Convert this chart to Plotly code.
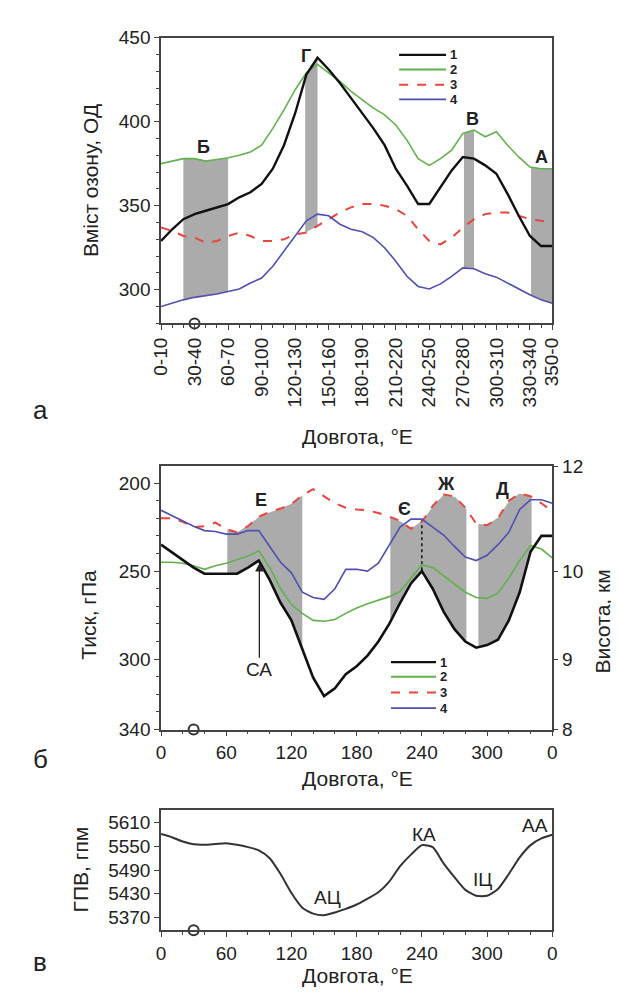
import numpy as np
import plotly.graph_objects as go

# ---------------- DATA ----------------
# Panel а: ozone content (DU) by longitude sector
lon_a = list(range(0, 351, 10))
tick_a_vals = [0, 30, 60, 90, 120, 150, 180, 210, 240, 270, 300, 330, 350]
tick_a_text = ["0-10", "30-40", "60-70", "90-100", "120-130", "150-160", "180-190",
               "210-220", "240-250", "270-280", "300-310", "330-340", "350-0"]
oz1 = [329, 336, 342, 345, 347, 349, 351, 355, 358, 363, 372, 386, 405, 428, 438, 431,
       423, 414, 405, 396, 386, 372, 362, 351, 351, 361, 371, 379, 378, 374, 369, 357,
       344, 332, 326, 326]
oz2 = [375, 376.5, 378, 378, 376.5, 377.5, 378.5, 380, 382, 386, 396, 407, 419, 429, 434,
       429, 424, 418, 413, 408, 404, 398, 389, 378, 374, 378, 383, 393, 395, 391, 394, 386,
       379, 373, 372, 372]
oz3 = [337, 335, 332, 331, 328, 329, 332, 334, 332, 329, 329, 330, 333, 334, 338, 342, 346,
       349, 351, 351, 350, 348, 344, 336, 329, 327, 331, 337, 342, 345, 346, 346, 344, 342,
       341, 340]
oz4 = [290, 292, 294, 295.5, 296.5, 297.5, 299, 300.5, 304, 307, 314, 323, 332, 341, 345,
       344, 339, 336, 334.5, 331, 325, 317, 308, 302, 300.5, 303.5, 308, 313, 312.5, 309.5,
       307.5, 304, 300, 297, 294, 292]

# Panel б: tropopause pressure (hPa)
lon_b = list(range(0, 361, 10))
tick_b_vals = [0, 60, 120, 180, 240, 300, 360]
tick_b_text = ["0", "60", "120", "180", "240", "300", "0"]
pr1 = [235, 239.5, 244, 248, 251.5, 251.5, 251.5, 251.5, 248, 244, 255, 268, 278, 294,
       310.5, 321, 316.5, 308.5, 304, 298, 290, 280, 268, 257, 250, 260, 273, 283, 290,
       293.5, 292, 289, 278, 262, 239, 230, 230]
pr2 = [245, 245, 245.5, 247, 249, 247, 245.5, 243.5, 241.5, 238.5, 248, 260, 269, 274, 278,
       278.5, 277.5, 274, 271, 268.5, 266.5, 264.5, 261.5, 254, 246.5, 248, 252.5, 257.5,
       262, 265, 265.5, 262.5, 254, 244, 235.5, 237.5, 242.5]
pr3 = [220, 220, 222, 225, 224.5, 222.5, 226, 228, 224.5, 219, 216.5, 214.5, 212, 207,
       203.5, 207.5, 211.5, 214, 215, 215.5, 217, 219, 221.5, 226, 222, 213, 206.5, 207.5,
       214, 223, 224, 220, 210, 206, 207.5, 211.5, 216]
pr4 = [215.5, 218.5, 221.5, 224.5, 227, 227.5, 229, 229, 227, 227, 236, 245, 251, 262, 265,
       266, 260, 249, 249, 250, 245.5, 235, 225, 220.5, 220.5, 225, 229.5, 236, 242, 244,
       241, 235, 228, 215, 209.5, 209.5, 211.5]
height_ticks_p = [190.5, 250, 300, 340]
height_ticks_km = ["12", "10", "9", "8"]

# Panel в: geopotential height (gpm)
gph = [5581, 5573, 5562, 5555, 5554, 5556, 5558, 5554, 5548, 5540, 5520, 5480, 5432, 5395,
       5380, 5376, 5383, 5392, 5403, 5418, 5434, 5461, 5500, 5529, 5553, 5548, 5507, 5472,
       5440, 5425, 5425, 5442, 5480, 5522, 5553, 5570, 5579]
gph_ticks = [5370, 5430, 5490, 5550, 5610]

kyiv_lon = 30

FONT = "Liberation Sans, Arial, sans-serif"
BLACK = "#111111"
GREEN = "#63b04f"
RED = "#e8453c"
BLUE = "#5050b0"
GRAY = "#ababab"
AX = "#444444"

fig = go.Figure()


def band(xarr, top, bot, x0, x1, xa, ya):
    g = np.linspace(x0, x1, 40)
    t = np.interp(g, xarr, top)
    b = np.interp(g, xarr, bot)
    fig.add_trace(go.Scatter(x=list(g) + list(g[::-1]), y=list(t) + list(b[::-1]),
                             fill="toself", fillcolor=GRAY, line=dict(width=0),
                             mode="lines", hoverinfo="skip", showlegend=False,
                             xaxis=xa, yaxis=ya))


def kyiv(xa, ya, yv):
    fig.add_trace(go.Scatter(x=[kyiv_lon], y=[yv], mode="markers", cliponaxis=False,
                             marker=dict(symbol="circle-open", size=10, color="#333",
                                         line=dict(color="#333", width=2)),
                             showlegend=False, xaxis=xa, yaxis=ya))


# ----- Panel а -----
band(lon_a, oz2, oz4, 20, 60, "x", "y")
band(lon_a, oz1, oz3, 129, 140, "x", "y")
band(lon_a, oz2, oz4, 271, 280, "x", "y")
band(lon_a, oz2, oz4, 331, 350, "x", "y")

for ser, col, w, dash in [(oz2, GREEN, 1.6, "solid"), (oz3, RED, 2, "dash"),
                          (oz4, BLUE, 1.6, "solid"), (oz1, BLACK, 2.4, "solid")]:
    fig.add_trace(go.Scatter(x=lon_a, y=ser, mode="lines",
                             line=dict(color=col, width=w, dash=dash),
                             showlegend=False, xaxis="x", yaxis="y"))
kyiv("x", "y", 280)

# ----- Panel б -----
band(lon_b, pr3, pr1, 61, 130, "x2", "y2")
band(lon_b, pr3, pr1, 211, 241, "x2", "y2")
band(lon_b, pr3, pr1, 241, 281, "x2", "y2")
band(lon_b, pr3, pr1, 292, 341, "x2", "y2")

fig.add_trace(go.Scatter(x=[240, 240],
                         y=[float(np.interp(240, lon_b, pr4)), float(np.interp(240, lon_b, pr1))],
                         mode="lines", line=dict(color=BLACK, width=1.5, dash="dot"),
                         showlegend=False, xaxis="x2", yaxis="y2"))

for ser, col, w, dash in [(pr2, GREEN, 1.6, "solid"), (pr3, RED, 2, "dash"),
                          (pr4, BLUE, 1.6, "solid"), (pr1, BLACK, 2.6, "solid")]:
    fig.add_trace(go.Scatter(x=lon_b, y=ser, mode="lines",
                             line=dict(color=col, width=w, dash=dash),
                             showlegend=False, xaxis="x2", yaxis="y2"))
kyiv("x2", "y2", 340)
fig.add_trace(go.Scatter(x=[0], y=[None], mode="lines", showlegend=False,
                         xaxis="x2", yaxis="y4"))

# ----- Panel в -----
fig.add_trace(go.Scatter(x=lon_b, y=gph, mode="lines",
                         line=dict(color="#333", width=2, shape="spline", smoothing=0.6),
                         showlegend=False, xaxis="x3", yaxis="y3"))
kyiv("x3", "y3", 5338)

# ---------------- LAYOUT ----------------
W, H = 619, 992
xd = [147 / W, 552 / W]


def ydom(top, bot):
    return [1 - bot / H, 1 - top / H]


tickfont = dict(family=FONT, size=19, color="#222")
common_ax = dict(showline=True, linecolor=AX, linewidth=1.5, mirror=True,
                 ticks="outside", tickcolor=AX, ticklen=5, tickwidth=1.3,
                 showgrid=False, zeroline=False, tickfont=tickfont)
minor10 = dict(dtick=10, tick0=0, ticks="outside", ticklen=3, tickcolor=AX)
minor20 = dict(dtick=20, tick0=0, ticks="outside", ticklen=3, tickcolor=AX)

fig.update_layout(
    width=W, height=H, margin=dict(l=0, r=0, t=0, b=0),
    paper_bgcolor="white", plot_bgcolor="white", showlegend=False,
    font=dict(family=FONT, color="#222"),
    xaxis=dict(domain=xd, anchor="y", range=[0, 350], tickmode="array",
               tickvals=tick_a_vals, ticktext=tick_a_text, tickangle=-90,
               minor=minor10, **common_ax),
    yaxis=dict(domain=ydom(20, 312), anchor="x", range=[280, 450],
               tickvals=[300, 350, 400, 450], minor=minor10, **common_ax),
    xaxis2=dict(domain=xd, anchor="y2", range=[0, 360], tickmode="array",
                tickvals=tick_b_vals, ticktext=tick_b_text, minor=minor20, **common_ax),
    yaxis2=dict(domain=ydom(458, 727), anchor="x2", range=[340, 190.5],
                tickvals=[200, 250, 300, 340], minor=minor10, **common_ax),
    yaxis4=dict(overlaying="y2", anchor="x2", side="right", range=[340, 190.5],
                tickmode="array", tickvals=height_ticks_p, ticktext=height_ticks_km,
                showline=False, ticks="outside", tickcolor=AX, ticklen=5, tickwidth=1.3,
                showgrid=False, zeroline=False, tickfont=tickfont),
    xaxis3=dict(domain=xd, anchor="y3", range=[0, 360], tickmode="array",
                tickvals=tick_b_vals, ticktext=tick_b_text, minor=minor20, **common_ax),
    yaxis3=dict(domain=ydom(809, 932), anchor="x3", range=[5338, 5642],
                tickvals=gph_ticks, **common_ax),
)

ann = []
title_font = dict(family=FONT, size=21, color="#222")


def paper_text(text, xpx, ypx, font, angle=0):
    ann.append(dict(text=text, x=xpx / W, y=1 - ypx / H, xref="paper", yref="paper",
                    xanchor="center", yanchor="middle", textangle=angle,
                    showarrow=False, font=font))


for ypx in [428, 777, 978]:
    paper_text("Довгота, °E", 350, ypx, title_font)
paper_text("Вміст озону, ОД", 74, 166, title_font, -90)
paper_text("Тиск, гПа", 72, 610, title_font, -90)
paper_text("Висота, км", 604, 617, title_font, -90)
paper_text("ГПВ, гпм", 64, 870, title_font, -90)
letter_font = dict(family=FONT, size=26, color="#222")
paper_text("а", 22, 400, letter_font)
paper_text("б", 22, 757, letter_font)
paper_text("в", 22, 964, letter_font)

# sector labels
bold = dict(family=FONT, size=18, color="#222")
for t, x, y in [("Б", 38, 385), ("Г", 130, 439), ("В", 279, 401.5), ("А", 340, 379)]:
    ann.append(dict(text="<b>%s</b>" % t, x=x, y=y, xref="x", yref="y", showarrow=False,
                    xanchor="center", yanchor="middle", font=bold))
for t, x, y in [("Е", 91.6, 209.7), ("Є", 224, 214.9), ("Ж", 262.5, 200.4), ("Д", 314.4, 203.2)]:
    ann.append(dict(text="<b>%s</b>" % t, x=x, y=y, xref="x2", yref="y2", showarrow=False,
                    xanchor="center", yanchor="middle", font=bold))
# СА arrow
ann.append(dict(text="СА", x=90.5, y=245.5, xref="x2", yref="y2", ax=90.5, ay=306,
                axref="x2", ayref="y2", showarrow=True, arrowhead=2, arrowsize=1.3,
                arrowwidth=1.3, arrowcolor="#222",
                font=dict(family=FONT, size=19, color="#222")))
# в labels
reg = dict(family=FONT, size=19, color="#222")
for t, x, y in [("АЦ", 153, 5421), ("КА", 242, 5581), ("ІЦ", 296, 5466), ("АА", 344, 5602)]:
    ann.append(dict(text=t, x=x, y=y, xref="x3", yref="y3", showarrow=False,
                    xanchor="center", yanchor="middle", font=reg))

# custom legends
shapes = []
leg_items = [(BLACK, 2.4, "solid", "1"), (GREEN, 1.8, "solid", "2"),
             (RED, 2, "dash", "3"), (BLUE, 1.8, "solid", "4")]
leg_font = dict(family=FONT, size=13, color="#222")
ya_leg = [439.7, 431.0, 421.9, 413.2]
for (col, w, dash, lab), yv in zip(leg_items, ya_leg):
    shapes.append(dict(type="line", xref="x", yref="y", x0=213, x1=255, y0=yv, y1=yv,
                       line=dict(color=col, width=w, dash=dash)))
    ann.append(dict(text="<b>%s</b>" % lab, x=257, y=yv, xref="x", yref="y", xanchor="left",
                    yanchor="middle", showarrow=False, font=leg_font))
yb_leg = [301.7, 310.0, 319.0, 327.8]
for (col, w, dash, lab), yv in zip(leg_items, yb_leg):
    shapes.append(dict(type="line", xref="x2", yref="y2", x0=211.6, x1=253, y0=yv, y1=yv,
                       line=dict(color=col, width=w, dash=dash)))
    ann.append(dict(text="<b>%s</b>" % lab, x=255, y=yv, xref="x2", yref="y2", xanchor="left",
                    yanchor="middle", showarrow=False, font=leg_font))

fig.update_layout(annotations=ann, shapes=shapes)
fig.write_html("out.html")
